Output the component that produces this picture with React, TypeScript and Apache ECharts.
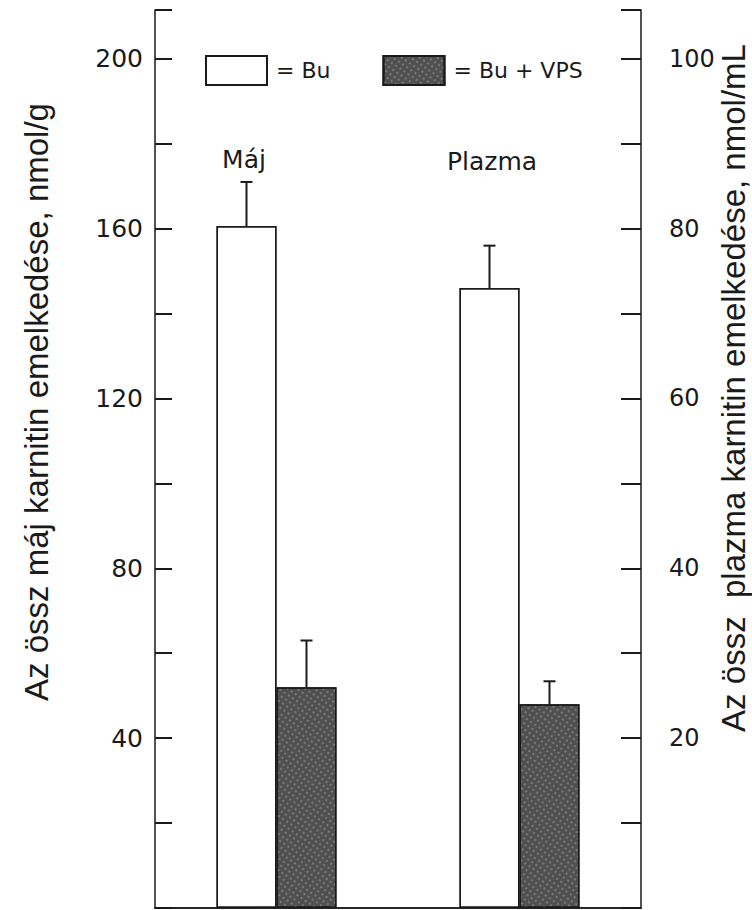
import React, { useEffect, useRef } from "react";
import * as echarts from "echarts";

// ---- data ----
const categories = ["Máj", "Plazma"];
const seriesNames = ["Bu", "Bu + VPS"];
// Máj values (left axis, nmol/g)
const majBu = [160.6, "-"];
const majBuVps = [52, "-"];
const majErrTop = [171, 63];
// Plazma values (right axis, nmol/mL)
const plazmaBu = ["-", 73];
const plazmaBuVps = ["-", 24];
const plazmaErrTop = [78, 26.7];
const leftTitle = "Az össz máj karnitin emelkedése, nmol/g";
const rightTitle = "Az össz  plazma karnitin emelkedése, nmol/mL";

const INK = "#1a1a1a";
const HFONT = "DejaVu Sans";

export default function App() {
  const ref = useRef<HTMLDivElement>(null);
  useEffect(() => {
    document.body.style.margin = "0";
    const chart = echarts.init(ref.current!, null, { renderer: "svg" });
    const barWidth = 60;
    const errItem = (params: any, api: any) => {
      const x = api.value(0);
      const lo = api.value(1);
      const hi = api.value(2);
      const side = api.value(3);
      const p1 = api.coord([x, lo]);
      const p2 = api.coord([x, hi]);
      const cx = p1[0] + (side * barWidth) / 2;
      return {
        type: "group",
        children: [
          { type: "line", shape: { x1: cx, y1: p1[1], x2: cx, y2: p2[1] }, style: { stroke: INK, lineWidth: 2 } },
          { type: "line", shape: { x1: cx - 6, y1: p2[1], x2: cx + 6, y2: p2[1] }, style: { stroke: INK, lineWidth: 2 } },
        ],
      };
    };
    const noDecal = { symbol: "rect", color: "rgba(0,0,0,0)", dashArrayX: [1, 0], dashArrayY: [1, 0] };
    const whiteStyle = { color: "#ffffff", borderColor: INK, borderWidth: 1.5, decal: noDecal };
    const darkStyle = {
      color: "#505050",
      borderColor: INK,
      borderWidth: 1.5,
      decal: {
        symbol: "rect",
        symbolSize: 0.7,
        color: "rgba(220,220,220,0.55)",
        dashArrayX: [2, 3],
        dashArrayY: [2, 3],
        rotation: 0.6,
      },
    };
    chart.setOption({
      animation: false,
      backgroundColor: "#ffffff",
      aria: { enabled: true, decal: { show: true } },
      grid: { left: 155, right: 111, top: 10, bottom: 2, containLabel: false },
      legend: {
        data: seriesNames,
        left: 205,
        top: 55,
        padding: 0,
        icon: "rect",
        itemWidth: 61,
        itemHeight: 29,
        itemGap: 52,
        selectedMode: false,
        formatter: "= {name}",
        textStyle: { fontFamily: HFONT, fontSize: 22, color: INK, padding: [0, 0, 0, 4] },
      },
      xAxis: [
        {
          type: "category",
          data: categories,
          position: "bottom",
          axisLine: { show: true, lineStyle: { color: INK, width: 1.5 } },
          axisTick: { show: false },
          axisLabel: { show: false },
        },
        {
          type: "category",
          data: categories,
          position: "top",
          axisLine: { show: true, lineStyle: { color: INK, width: 1.5 } },
          axisTick: { show: false },
          axisLabel: { show: false },
        },
      ],
      yAxis: [
        {
          type: "value",
          position: "left",
          min: 0,
          max: 211.5,
          interval: 20,
          splitLine: { show: false },
          axisLine: { show: true, lineStyle: { color: INK, width: 1.5 } },
          axisTick: { show: true, inside: true, length: 17, lineStyle: { color: INK, width: 2 } },
          axisLabel: {
            fontFamily: HFONT,
            fontSize: 25,
            color: INK,
            margin: 12,
            formatter: (v: number) => (v !== 0 && v % 40 === 0 ? String(v) : ""),
          },
        },
        {
          type: "value",
          position: "right",
          min: 0,
          max: 105.75,
          interval: 10,
          splitLine: { show: false },
          axisLine: { show: true, lineStyle: { color: INK, width: 1.5 } },
          axisTick: { show: true, inside: true, length: 20, lineStyle: { color: INK, width: 2 } },
          axisLabel: {
            fontFamily: HFONT,
            fontSize: 24,
            color: INK,
            margin: 28,
            formatter: (v: number) => (v !== 0 && v % 20 === 0 ? String(v) : ""),
          },
        },
      ],
      series: [
        { name: "Bu", type: "bar", xAxisIndex: 0, yAxisIndex: 0, data: majBu, barWidth, barGap: "0%", itemStyle: whiteStyle },
        { name: "Bu + VPS", type: "bar", xAxisIndex: 0, yAxisIndex: 0, data: majBuVps, barWidth, barGap: "0%", itemStyle: darkStyle },
        { name: "Bu", type: "bar", xAxisIndex: 1, yAxisIndex: 1, data: plazmaBu, barWidth, barGap: "0%", itemStyle: whiteStyle },
        { name: "Bu + VPS", type: "bar", xAxisIndex: 1, yAxisIndex: 1, data: plazmaBuVps, barWidth, barGap: "0%", itemStyle: darkStyle },
        {
          type: "custom",
          xAxisIndex: 0,
          yAxisIndex: 0,
          renderItem: errItem,
          encode: { x: 0, y: [1, 2] },
          itemStyle: { decal: noDecal },
          data: [
            [0, majBu[0], majErrTop[0], -1],
            [0, majBuVps[0], majErrTop[1], 1],
          ],
          z: 5,
        },
        {
          type: "custom",
          xAxisIndex: 1,
          yAxisIndex: 1,
          renderItem: errItem,
          encode: { x: 0, y: [1, 2] },
          itemStyle: { decal: noDecal },
          data: [
            [1, plazmaBu[1], plazmaErrTop[0], -1],
            [1, plazmaBuVps[1], plazmaErrTop[1], 1],
          ],
          z: 5,
        },
      ],
      graphic: [
        {
          type: "text",
          x: 36,
          y: 402,
          rotation: Math.PI / 2,
          style: {
            text: leftTitle,
            font: "33px 'Liberation Sans', Arial, sans-serif",
            fill: INK,
            align: "center",
            verticalAlign: "middle",
          },
        },
        {
          type: "text",
          x: 733,
          y: 388,
          rotation: Math.PI / 2,
          style: {
            text: rightTitle,
            font: "33px 'Liberation Sans', Arial, sans-serif",
            fill: INK,
            align: "center",
            verticalAlign: "middle",
          },
        },
        {
          type: "text",
          x: 244,
          y: 159,
          style: { text: categories[0], font: `25px '${HFONT}'`, fill: INK, align: "center", verticalAlign: "middle" },
        },
        {
          type: "text",
          x: 492,
          y: 161,
          style: { text: categories[1], font: `25px '${HFONT}'`, fill: INK, align: "center", verticalAlign: "middle" },
        },
      ],
    });
    return () => chart.dispose();
  }, []);
  return <div ref={ref} style={{ width: 752, height: 910 }} />;
}
